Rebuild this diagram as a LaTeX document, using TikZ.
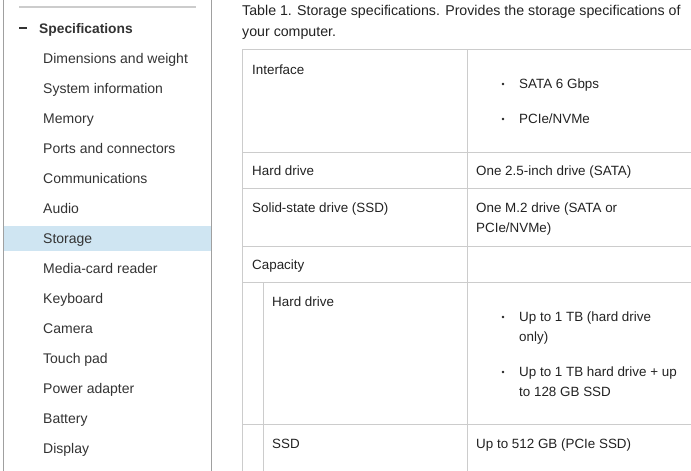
\documentclass[tikz,border=0pt]{standalone}
\usepackage{fontspec}
\setmainfont{Liberation Sans}
\definecolor{navtext}{HTML}{333333}
\definecolor{celltext}{HTML}{222222}
\definecolor{gridgray}{HTML}{CCCCCC}
\definecolor{panelgray}{HTML}{A0A0A0}
\definecolor{selblue}{HTML}{CFE5F2}
\begin{document}
\begin{tikzpicture}[x=1pt,y=-1pt,
    txt/.style={anchor=base west,inner sep=0pt,text=celltext,font=\fontsize{13.4}{15}\selectfont},
    navitem/.style={txt,text=navtext,font=\fontsize{14}{15}\selectfont},
    rule/.style={draw=gridgray,line width=1pt},
    dot/.style={circle,fill=celltext,inner sep=0pt,minimum size=2.6pt}]
    \useasboundingbox (0,0) rectangle (691,471);
    % left navigation panel
    \fill[selblue] (4,226) rectangle (211,251);
    \draw[panelgray,line width=1pt] (3.5,0) -- (3.5,471);
    \draw[panelgray,line width=1pt] (211.5,0) -- (211.5,471);
    \draw[gridgray,line width=2pt] (19,7) -- (196,7);
    \draw[navtext,line width=2pt] (19,28) -- (27,28);
    \node[navitem,font=\fontsize{13.8}{15}\selectfont\bfseries] (spec) at (39,33) {Specifications};
    \foreach \item [count=\i] in {Dimensions and weight,System information,Memory,
        Ports and connectors,Communications,Audio,Storage,Media-card reader,Keyboard,
        Camera,Touch pad,Power adapter,Battery,Display} {
        \node[navitem] (nav\i) at (43,{33+30*\i}) {\item};
      }
    % caption
    \node[txt,font=\fontsize{14.2}{15}\selectfont] (cap1) at (242,15) {Table 1. Storage specifications. Provides the storage specifications of};
    \node[txt,font=\fontsize{14.2}{15}\selectfont] (cap2) at (242,36) {your computer.};
    % table grid
    \foreach \y in {49.5,152.5,188.5,246.5,282.5,424.5} {
        \draw[rule] (242,\y) -- (691,\y);
      }
    \draw[rule] (242.5,49) -- (242.5,471);
    \draw[rule] (467.5,49) -- (467.5,471);
    \draw[rule] (263.5,282) -- (263.5,471);
    % cells
    \node[txt] (iface) at (252,74) {Interface};
    \node[dot] (b1) at (503,84) {};
    \node[txt] (sata) at (519,88) {SATA 6 Gbps};
    \node[dot] (b2) at (503,119) {};
    \node[txt] (pcie) at (519,123) {PCIe/NVMe};
    \node[txt] (hdd) at (252,175) {Hard drive};
    \node[txt] (hddval) at (476,175) {One 2.5-inch drive (SATA)};
    \node[txt] (ssd) at (252,212) {Solid-state drive (SSD)};
    \node[txt] (ssdval) at (476,212) {One M.2 drive (SATA or};
    \node[txt] (ssdvalb) at (476,232) {PCIe/NVMe)};
    \node[txt] (cap) at (252,269) {Capacity};
    \node[txt] (caphdd) at (272,306) {Hard drive};
    \node[dot] (b3) at (503,317) {};
    \node[txt] (up1) at (519,321) {Up to 1 TB (hard drive};
    \node[txt] (up1b) at (519,341) {only)};
    \node[dot] (b4) at (503,372) {};
    \node[txt] (up2) at (519,376) {Up to 1 TB hard drive + up};
    \node[txt] (up2b) at (519,396) {to 128 GB SSD};
    \node[txt] (capssd) at (272,448) {SSD};
    \node[txt] (capssdval) at (476,448) {Up to 512 GB (PCIe SSD)};
  \end{tikzpicture}
\end{document}
